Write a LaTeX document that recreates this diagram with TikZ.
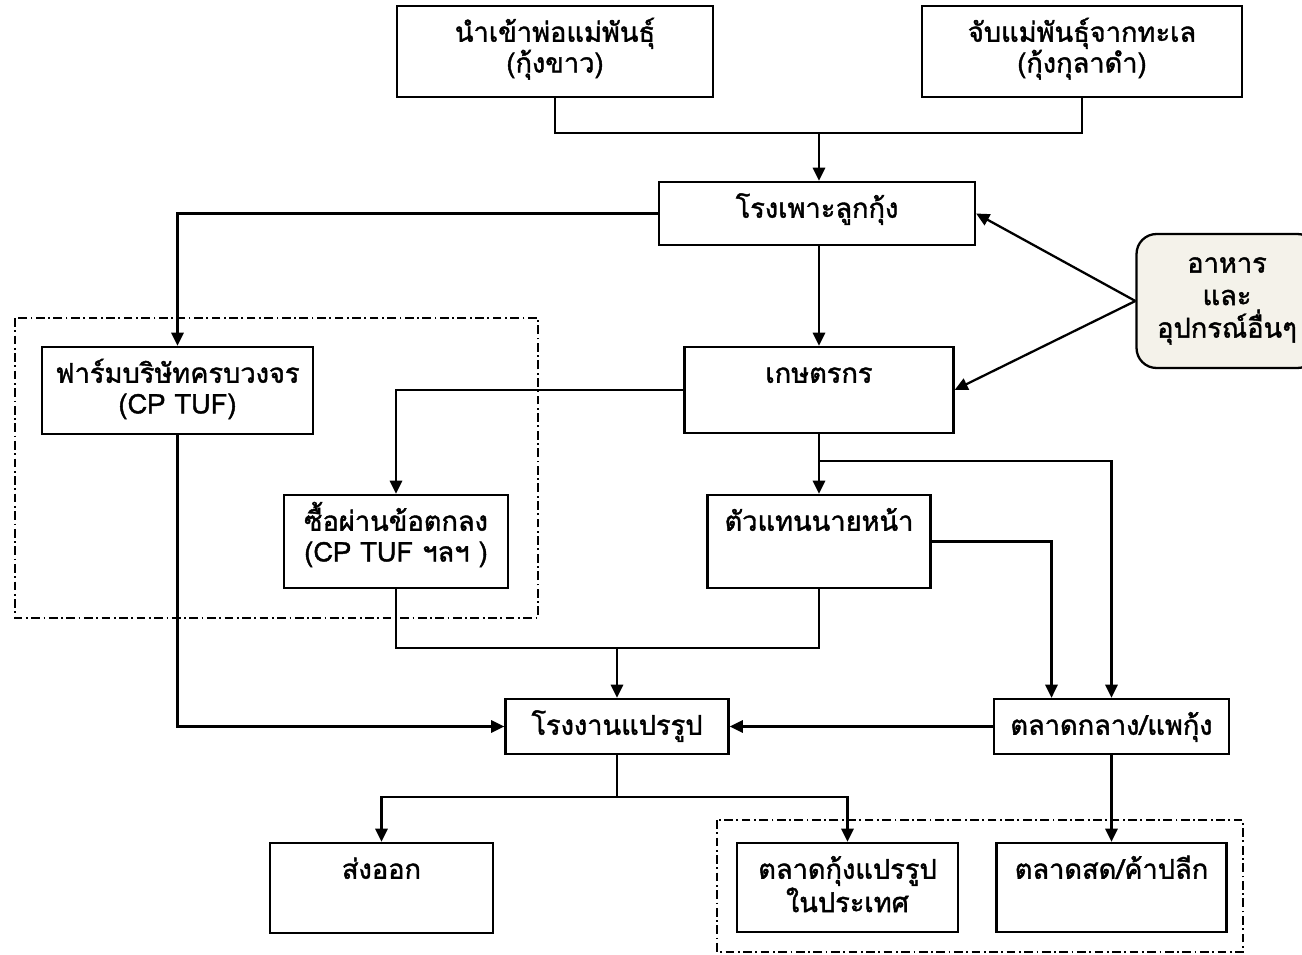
\documentclass[tikz,border=0pt]{standalone}
\usepackage{fontspec}
\newfontfamily\thaifont[Script=Thai,FakeBold=1.5]{Loma}
\usetikzlibrary{arrows.meta}
\definecolor{feedfill}{RGB}{244,242,234}

\begin{document}
\begin{tikzpicture}[x=0.02cm,y=-0.02cm,
  box/.style={draw,line width=1.3pt,rectangle,inner sep=0pt},
  txt/.style={anchor=base,align=center,text width=6cm,inner sep=0pt,yshift=-21pt,
    font=\thaifont\fontsize{15.5}{17.5}\selectfont},
  arr/.style={line width=1.3pt,-{Triangle[length=7.5pt,width=7pt]}},
  link/.style={line width=1.3pt},
  frame/.style={line width=1pt,dash pattern=on 5pt off 2pt on 1pt off 2pt}]
\useasboundingbox (0,0) rectangle (1302,955);

% sources of brood stock
\node[box,minimum width=6.32cm,minimum height=1.82cm,
  label={[txt]north:นำเข้าพ่อแม่พันธุ์\\(กุ้งขาว)}] (imp) at (555,51.5) {};
\node[box,minimum width=6.4cm,minimum height=1.82cm,
  label={[txt]north:จับแม่พันธุ์จากทะเล\\(กุ้งกุลาดำ)}] (wild) at (1082,51.5) {};
\node[box,minimum width=6.32cm,minimum height=1.26cm,
  label={[txt]north:โรงเพาะลูกกุ้ง}] (hatch) at (817,213.5) {};
\node[box,rounded corners=0.4cm,fill=feedfill,minimum width=3.62cm,minimum height=2.68cm,
  align=center,font=\thaifont\fontsize{15.5}{18.5}\selectfont] (feed) at (1227,301) {อาหาร\\และ\\อุปกรณ์อื่นๆ};

% farms
\node[box,minimum width=5.42cm,minimum height=1.74cm,
  label={[txt]north:ฟาร์มบริษัทครบวงจร\\(CP TUF)}] (cpf) at (177.5,390.5) {};
\node[box,minimum width=5.38cm,minimum height=1.72cm,
  label={[txt]north:เกษตรกร}] (farm) at (819,390) {};
\node[box,minimum width=4.48cm,minimum height=1.86cm,
  label={[txt]north:ซื้อผ่านข้อตกลง\\(CP TUF ฯลฯ )}] (deal) at (396,541.5) {};
\node[box,minimum width=4.46cm,minimum height=1.86cm,
  label={[txt]north:ตัวแทนนายหน้า}] (agent) at (819,541.5) {};

% processing and markets
\node[box,minimum width=4.46cm,minimum height=1.1cm,
  label={[txt]north:โรงงานแปรรูป}] (proc) at (617,726.5) {};
\node[box,minimum width=4.7cm,minimum height=1.1cm,
  label={[txt]north:ตลาดกลาง/แพกุ้ง}] (market) at (1111.5,726.5) {};
\node[box,minimum width=4.46cm,minimum height=1.8cm,
  label={[txt]north:ส่งออก}] (export) at (381.5,888) {};
\node[box,minimum width=4.42cm,minimum height=1.78cm,
  label={[txt]north:ตลาดกุ้งแปรรูป\\ในประเทศ}] (local) at (847.5,887.5) {};
\node[box,minimum width=4.6cm,minimum height=1.78cm,
  label={[txt]north:ตลาดสด/ค้าปลีก}] (retail) at (1111.5,887.5) {};

\coordinate (j1) at (819,133);
\coordinate (j2) at (617,648);
\coordinate (j3) at (819,461);
\coordinate (j4) at (617,797);

% flows
\draw[link] (imp.south) |- (j1) -| (wild.south);
\draw[arr] (j1) -- (j1 |- hatch.north);
\draw[arr] (hatch.west) -| (cpf.north);
\draw[arr] (farm.north |- hatch.south) -- (farm.north);
\draw[arr] (feed.west) -- (hatch.east);
\draw[arr] (feed.west) -- (farm.east);
\draw[arr] (farm.west) -| (deal.north);
\draw[arr] (farm.south) -- (agent.north);
\draw[arr] (j3) -| (market.north);
\draw[arr] (agent.east) -| ([xshift=-1.2cm]market.north);
\draw[link] (deal.south) |- (j2) -| (agent.south);
\draw[arr] (j2) -- (proc.north);
\draw[arr] (cpf.south) |- (proc.west);
\draw[arr] (market.west) -- (proc.east);
\draw[line width=0.7pt] (proc.south) -- (j4);
\draw[arr] (j4) -| (export.north);
\draw[arr] (j4) -| (local.north);
\draw[arr] (market.south) -- (retail.north);

% groups
\draw[frame] (15,318) rectangle (538,618);
\draw[frame] (717,820) rectangle (1243,952);
\end{tikzpicture}
\end{document}
